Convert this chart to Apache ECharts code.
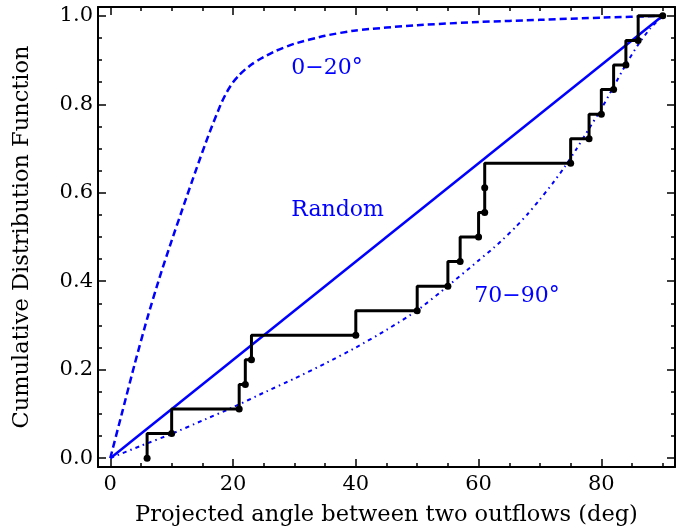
<!DOCTYPE html>
<html>
<head>
<meta charset="utf-8">
<script src="https://cdn.jsdelivr.net/npm/echarts@6/dist/echarts.min.js"></script>
<style>
html,body{margin:0;padding:0;background:#fff;}
#chart{width:694px;height:527px;}
</style>
</head>
<body>
<div id="chart"></div>
<script>
// observed angles (deg) and their cumulative fraction
var ecdfX = [6, 10, 21, 22, 23, 40, 50, 55, 57, 60, 61, 61, 75, 78, 80, 82, 84, 86, 90];
var ecdfY = [0, 0.0556, 0.1111, 0.1667, 0.2222, 0.2778, 0.3333, 0.3889, 0.4444, 0.5, 0.5556, 0.6111, 0.6667, 0.7222, 0.7778, 0.8333, 0.8889, 0.9444, 1.0];

// model curves
var x0to20 = [0, 2, 4, 6, 8, 10, 12, 14, 16, 18, 19, 20, 21, 22, 23, 24, 25, 27, 30, 35, 40, 50, 60, 70, 80, 90];
var cdf0to20 = [0, 0.107, 0.214, 0.315, 0.407, 0.492, 0.573, 0.653, 0.73, 0.80, 0.828, 0.85, 0.866, 0.879, 0.89, 0.899, 0.907, 0.921, 0.937, 0.955, 0.967, 0.979, 0.986, 0.991, 0.996, 1.0];

var x70to90 = [0, 5, 10, 15, 20, 25, 30, 35, 40, 45, 50, 55, 60, 62, 64, 66, 68, 70, 72, 74, 76, 78, 80, 82, 84, 86, 88, 90];
var cdf70to90 = [0, 0.028, 0.055, 0.085, 0.115, 0.148, 0.18, 0.214, 0.25, 0.29, 0.334, 0.389, 0.447, 0.47, 0.495, 0.522, 0.552, 0.585, 0.62, 0.658, 0.70, 0.745, 0.79, 0.84, 0.89, 0.935, 0.972, 1.0];

var xRandom = [0, 90];
var cdfRandom = [0, 1];

// ticks
var xMajor = [0, 20, 40, 60, 80];
var xMinor = [0, 5, 10, 15, 20, 25, 30, 35, 40, 45, 50, 55, 60, 65, 70, 75, 80, 85, 90];
var yMajor = [0, 0.2, 0.4, 0.6, 0.8, 1.0];
var yMinor = [0, 0.05, 0.1, 0.15, 0.2, 0.25, 0.3, 0.35, 0.4, 0.45, 0.5, 0.55, 0.6, 0.65, 0.7, 0.75, 0.8, 0.85, 0.9, 0.95, 1.0];

// text labels in the plot: [text, x, y]
var notes = [
    ['0\u221220\u00b0', 29.5, 0.882],
    ['Random', 29.5, 0.56],
    ['70\u221290\u00b0', 59.3, 0.366]
];

function pairs(xs, ys) {
    return xs.map(function (x, i) { return [x, ys[i]]; });
}

var FONT = 'DejaVu Serif';
var BLUE = '#0000ff';

function xAxisOf(pos, ticks, len, withLine, withLabel) {
    return {
        type: 'value', min: -2, max: 92, position: pos,
        splitLine: {show: false},
        axisLine: {show: withLine, onZero: false, lineStyle: {color: '#000', width: 2}},
        axisTick: {show: true, inside: true, length: len, customValues: ticks, lineStyle: {color: '#000', width: 1.5}},
        axisLabel: withLabel ? {
            show: true, customValues: xMajor, margin: 7,
            color: '#000', fontFamily: FONT, fontSize: 21
        } : {show: false},
        name: withLabel ? 'Projected angle between two outflows (deg)' : '',
        nameLocation: 'middle', nameGap: 37,
        nameTextStyle: {color: '#000', fontFamily: FONT, fontSize: 22.5}
    };
}

function yAxisOf(pos, ticks, len, withLine, withLabel) {
    return {
        type: 'value', min: -0.02, max: 1.02, position: pos,
        splitLine: {show: false},
        axisLine: {show: withLine, onZero: false, lineStyle: {color: '#000', width: 2}},
        axisTick: {show: true, inside: true, length: len, customValues: ticks, lineStyle: {color: '#000', width: 1.5}},
        axisLabel: withLabel ? {
            show: true, customValues: yMajor, margin: 5,
            color: '#000', fontFamily: FONT, fontSize: 21,
            formatter: function (v) { return v.toFixed(1); }
        } : {show: false},
        name: withLabel ? 'Cumulative Distribution Function' : '',
        nameLocation: 'middle', nameGap: 64,
        nameTextStyle: {color: '#000', fontFamily: FONT, fontSize: 22.5}
    };
}

var chart = echarts.init(document.getElementById('chart'));
var option = {
    animation: false,
    grid: {left: 98, right: 19, top: 7, bottom: 60, outerBoundsMode: 'none'},
    xAxis: [
        xAxisOf('bottom', xMajor, 8, true, true),
        xAxisOf('bottom', xMinor, 4, false, false),
        xAxisOf('top', xMajor, 8, true, false),
        xAxisOf('top', xMinor, 4, false, false)
    ],
    yAxis: [
        yAxisOf('left', yMajor, 8, true, true),
        yAxisOf('left', yMinor, 4, false, false),
        yAxisOf('right', yMajor, 8, true, false),
        yAxisOf('right', yMinor, 4, false, false)
    ],
    series: [
        {
            name: '0-20', type: 'line', data: pairs(x0to20, cdf0to20),
            smooth: 0.2, symbol: 'none',
            lineStyle: {color: BLUE, width: 2.5, type: [7, 4]}
        },
        {
            name: 'Random', type: 'line', data: pairs(xRandom, cdfRandom),
            symbol: 'none',
            lineStyle: {color: BLUE, width: 2.5}
        },
        {
            name: '70-90', type: 'line', data: pairs(x70to90, cdf70to90),
            smooth: 0.2, symbol: 'none',
            lineStyle: {color: BLUE, width: 2, type: [4, 4, 1.5, 4]}
        },
        {
            name: 'observed', type: 'line', data: pairs(ecdfX, ecdfY),
            step: 'start', symbol: 'circle', symbolSize: 7, showAllSymbol: true,
            itemStyle: {color: '#000'},
            lineStyle: {color: '#000', width: 3}
        }
    ]
};
chart.setOption(option);

chart.setOption({
    graphic: notes.map(function (n) {
        var p = chart.convertToPixel({xAxisIndex: 0, yAxisIndex: 0}, [n[1], n[2]]);
        return {
            type: 'text', x: p[0], y: p[1], z: 10,
            style: {
                text: n[0], fill: BLUE, font: '22px "DejaVu Serif"',
                textAlign: 'left', textVerticalAlign: 'middle'
            }
        };
    })
});
</script>
</body>
</html>
